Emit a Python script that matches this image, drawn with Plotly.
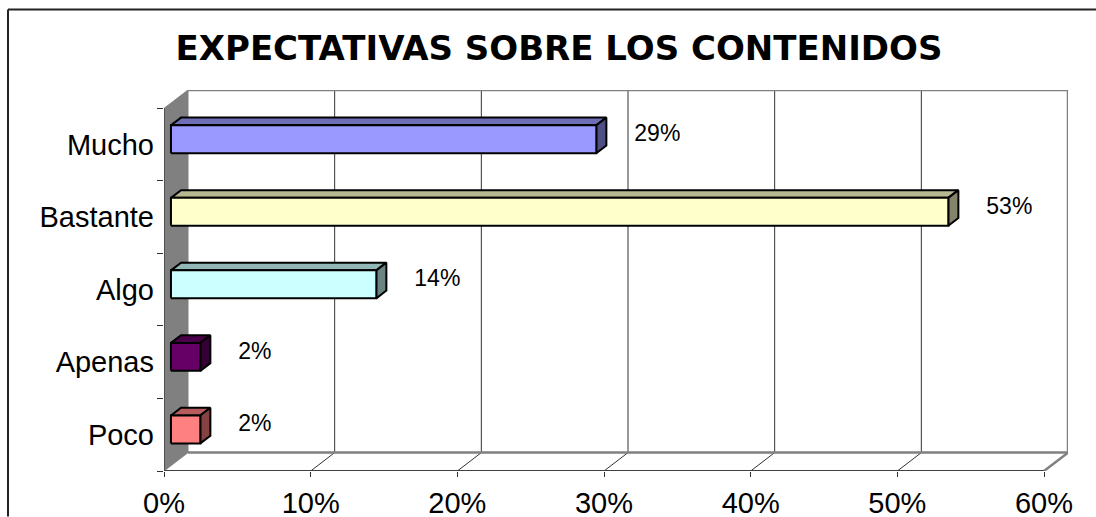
import plotly.graph_objects as go

# ---------------- data ----------------
categories = ["Mucho", "Bastante", "Algo", "Apenas", "Poco"]
values = [29, 53, 14, 2, 2]
value_labels = ["29%", "53%", "14%", "2%", "2%"]
front_colors = ["#9999FF", "#FFFFCC", "#CCFFFF", "#660066", "#FF8080"]
x_tick_vals = [0, 10, 20, 30, 40, 50, 60]
x_tick_text = ["0%", "10%", "20%", "30%", "40%", "50%", "60%"]
title_text = "EXPECTATIVAS SOBRE LOS CONTENIDOS"

# ---------------- geometry (3D look) ----------------
PX_X = 14.667           # px per percent unit
PX_Y = 72.6             # px per category
DXB = 24 / PX_X         # depth offset of back plane (x units)
DYB = 18.4 / PX_Y       # depth offset of back plane (y units)
F1, F2 = 0.29, 0.71     # bar front / back depth fractions
BAR_H = 28 / PX_Y
XMAX = 60
n = len(categories)
ypos = [n - 1 - i for i in range(n)]
Y0, Y1 = -0.5, n - 0.5


def shade(hexcol, f):
    h = hexcol.lstrip("#")
    r, g, b = (int(h[i:i + 2], 16) for i in (0, 2, 4))
    return "rgb(%d,%d,%d)" % (r * f, g * f, b * f)


fig = go.Figure()

def poly(xs, ys, fill=None, color="black", width=1):
    fig.add_trace(go.Scatter(
        x=xs, y=ys, mode="lines",
        fill="toself" if fill else None, fillcolor=fill,
        line=dict(color=color, width=width),
        hoverinfo="skip", showlegend=False, cliponaxis=False))

# left wall (gray)
poly([0, DXB, DXB, 0, 0], [Y0, Y0 + DYB, Y1 + DYB, Y1, Y0], fill="#808080", color="#808080", width=1)

# back gridlines and floor diagonals
for v in x_tick_vals[1:-1]:
    poly([v + DXB, v + DXB], [Y0 + DYB, Y1 + DYB], color="#333333", width=1)
    poly([v, v + DXB], [Y0, Y0 + DYB], color="#333333", width=1)

# back wall / floor borders (gray)
poly([DXB, XMAX + DXB, XMAX + DXB, DXB], [Y1 + DYB, Y1 + DYB, Y0 + DYB, Y0 + DYB], color="#808080", width=2.5)
poly([XMAX, XMAX + DXB], [Y0, Y0 + DYB], color="#808080", width=2.5)

# front axis lines
poly([0, 0], [Y0, Y1], color="#404040", width=1.5)
poly([0, XMAX], [Y0, Y0], color="#404040", width=2)

# bars: 3D boxes (top, side, front faces) built from the values
ddx = (F2 - F1) * DXB
ddy = (F2 - F1) * DYB
for i, v in enumerate(values):
    yc = ypos[i] + F1 * DYB
    yt, yb = yc + BAR_H / 2, yc - BAR_H / 2
    x0 = F1 * DXB
    x1 = v + F1 * DXB
    poly([x0, x0 + ddx, x1 + ddx, x1, x0], [yt, yt + ddy, yt + ddy, yt, yt],
         fill=shade(front_colors[i], 0.72), color="black", width=2)
    poly([x1, x1 + ddx, x1 + ddx, x1, x1], [yb, yb + ddy, yt + ddy, yt, yb],
         fill=shade(front_colors[i], 0.52), color="black", width=2)
    poly([x0, x1, x1, x0, x0], [yb, yb, yt, yt, yb],
         fill=front_colors[i], color="black", width=2)

# data labels
LABEL_GAP = 33 / PX_X
fig.add_trace(go.Scatter(
    x=[v + 0.5 * DXB + LABEL_GAP for v in values],
    y=[p + 0.5 * DYB for p in ypos],
    mode="text", text=value_labels, textposition="middle right",
    textfont=dict(family="Liberation Sans, Arial", size=23, color="black"),
    hoverinfo="skip", showlegend=False, cliponaxis=False))

W, H = 1096, 517
plot_w = (XMAX + DXB) * PX_X
plot_h = (Y1 + DYB - Y0) * PX_Y
L, T = 164, 90
fig.update_layout(
    width=W, height=H,
    margin=dict(l=L, r=W - L - plot_w, t=T, b=H - T - plot_h, autoexpand=False),
    paper_bgcolor="white", plot_bgcolor="white",
    title=dict(text="<b>%s</b>" % title_text, x=559 / W, xref="container",
               y=1 - 48 / H, yref="container", xanchor="center", yanchor="middle",
               font=dict(family="DejaVu Sans", size=34, color="black"), automargin=False),
    font=dict(family="Liberation Sans, Arial", color="black"),
    showlegend=False,
)
fig.update_xaxes(
    range=[0, XMAX + DXB], tickmode="array", tickvals=x_tick_vals, ticktext=x_tick_text,
    ticks="outside", ticklen=5, tickwidth=1, tickcolor="#333333",
    tickfont=dict(size=29), showgrid=False, zeroline=False, showline=False,
    ticklabelstandoff=1, automargin=False,
)
fig.update_yaxes(
    range=[Y0, Y1 + DYB], tickmode="array", tickvals=ypos, ticktext=categories,
    ticks="", tickfont=dict(size=29), showgrid=False, zeroline=False, showline=False,
    ticklabelstandoff=9, automargin=False,
    minor=dict(tickmode="array", tickvals=[Y0 + k for k in range(n + 1)],
               ticks="outside", ticklen=6, tickwidth=1, tickcolor="#333333", showgrid=False),
)

# outer chart border (top and left visible in the picture)
fig.add_shape(type="line", xref="paper", yref="paper",
              x0=(8 - L) / plot_w, x1=(W - L) / plot_w,
              y0=(T + plot_h - 9.5) / plot_h, y1=(T + plot_h - 9.5) / plot_h,
              line=dict(color="#222222", width=2))
fig.add_shape(type="line", xref="paper", yref="paper",
              x0=(8 - L) / plot_w, x1=(8 - L) / plot_w,
              y0=(T + plot_h - 9.5) / plot_h, y1=(T + plot_h - H) / plot_h,
              line=dict(color="#222222", width=2))

fig.write_html(
    "out.html",
    config={"displayModeBar": False},
    post_script="document.body.style.margin='0';document.body.style.overflow='hidden';",
)
